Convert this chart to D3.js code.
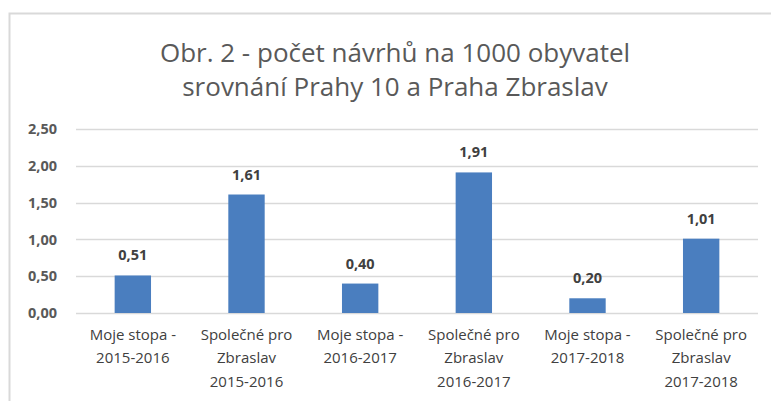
<!DOCTYPE html>
<html>
<head>
<meta charset="utf-8">
<script src="https://cdn.jsdelivr.net/npm/d3@7/dist/d3.min.js"></script>
<style>
    body { margin: 0; background: #fff; }
    svg { display: block; font-family: "Open Sans", Lato, sans-serif; }
</style>
</head>
<body>
<div id="chart"></div>
<script>
'use strict';
// chart values
const categories = [
    ["Moje stopa -", "2015-2016"],
    ["Společné pro", "Zbraslav", "2015-2016"],
    ["Moje stopa -", "2016-2017"],
    ["Společné pro", "Zbraslav", "2016-2017"],
    ["Moje stopa -", "2017-2018"],
    ["Společné pro", "Zbraslav", "2017-2018"]
];
const values = [0.51, 1.61, 0.40, 1.91, 0.20, 1.01];
const yTicks = [0, 0.5, 1, 1.5, 2, 2.5];
const titleLines = ["Obr. 2 - počet návrhů na 1000 obyvatel", "srovnání Prahy 10 a Praha Zbraslav"];

const W = 771, H = 401;
const margin = { left: 76, right: 13, top: 129, bottom: 88 };
const width = W - margin.left - margin.right;
const height = H - margin.top - margin.bottom;

const fmt = function(v) { return d3.format(".2f")(v).replace(".", ","); };

const svg = d3.select("#chart").append("svg")
    .attr("width", W)
    .attr("height", H);

// chart frame (top and left edges visible)
svg.append("path")
    .attr("d", "M9.5," + H + "V13.5H" + W)
    .attr("fill", "none")
    .attr("stroke", "#d9d9d9")
    .attr("stroke-width", 2);

// title
svg.append("g").selectAll("text")
    .data(titleLines)
    .enter().append("text")
    .attr("x", 395)
    .attr("y", function(d, i) { return 62 + i * 34; })
    .attr("text-anchor", "middle")
    .attr("fill", "#595959")
    .style("font-size", "26px")
    .text(function(d) { return d; });

const g = svg.append("g")
    .attr("transform", "translate(" + margin.left + "," + margin.top + ")");

const x = d3.scaleBand().domain(d3.range(categories.length)).range([0, width]).paddingInner(0.68).paddingOuter(0.34);
const y = d3.scaleLinear().domain([0, 2.5]).range([height, 0]);

// gridlines
g.append("g").selectAll("line")
    .data(yTicks)
    .enter().append("line")
    .attr("x1", 0)
    .attr("x2", width)
    .attr("y1", function(d) { return Math.round(y(d)) + 0.5; })
    .attr("y2", function(d) { return Math.round(y(d)) + 0.5; })
    .attr("stroke", "#d9d9d9")
    .attr("stroke-width", 1.5);

// y axis labels
const yAxis = g.append("g")
    .call(d3.axisLeft(y).tickValues(yTicks).tickFormat(fmt).tickSize(0).tickPadding(19));
yAxis.select(".domain").remove();
yAxis.selectAll("text")
    .attr("fill", "#595959")
    .style("font-size", "14.5px")
    .style("font-weight", "bold")
    .style("font-family", "'Open Sans', sans-serif");

// bars
g.append("g").selectAll("rect")
    .data(values)
    .enter().append("rect")
    .attr("x", function(d, i) { return x(i); })
    .attr("y", function(d) { return y(d); })
    .attr("width", x.bandwidth())
    .attr("height", function(d) { return height - y(d); })
    .attr("fill", "#4a7ebf");

// data labels
g.append("g").selectAll("text")
    .data(values)
    .enter().append("text")
    .attr("x", function(d, i) { return x(i) + x.bandwidth() / 2; })
    .attr("y", function(d) { return y(d) - 15; })
    .attr("text-anchor", "middle")
    .attr("fill", "#404040")
    .style("font-size", "14.5px")
    .style("font-weight", "bold")
    .text(fmt);

// category labels, wrapped like the original
const cat = g.append("g").selectAll("text")
    .data(categories)
    .enter().append("text")
    .attr("text-anchor", "middle")
    .attr("fill", "#404040")
    .style("font-size", "15px")
    .attr("transform", function(d, i) {
        return "translate(" + (x(i) + x.bandwidth() / 2) + "," + (height + 26.5) + ")";
    });
cat.selectAll("tspan")
    .data(function(d) { return d; })
    .enter().append("tspan")
    .attr("x", 0)
    .attr("y", function(d, i) { return i * 23.5; })
    .text(function(d) { return d; });
</script>
</body>
</html>
